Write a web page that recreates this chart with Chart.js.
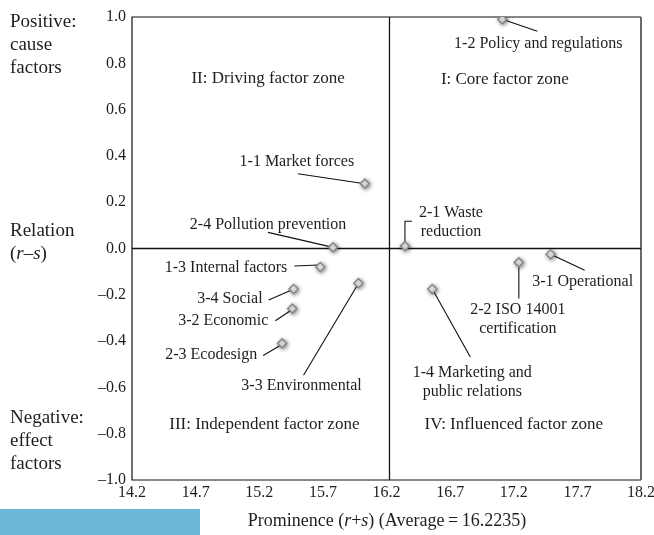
<!DOCTYPE html>
<html>
<head>
<meta charset="utf-8">
<script src="https://cdn.jsdelivr.net/npm/chart.js@4.4.0/dist/chart.umd.min.js"></script>
<style>
  html, body { margin: 0; padding: 0; background: #fff; }
  #wrap { position: relative; width: 654px; height: 535px; }
  #bar { position: absolute; left: 0; top: 509px; width: 200px; height: 26px; background: #6cb8da; }
</style>
</head>
<body>
<div id="wrap">
  <canvas id="chart" width="654" height="535"></canvas>
  <div id="bar"></div>
</div>
<script>
// factors (categories) and their DEMATEL values
const factorNames = [
    '1-1 Market forces',
    '1-2 Policy and regulations',
    '1-3 Internal factors',
    '1-4 Marketing and\npublic relations',
    '2-1 Waste\nreduction',
    '2-2 ISO 14001\ncertification',
    '2-3 Ecodesign',
    '2-4 Pollution prevention',
    '3-1 Operational',
    '3-2 Economic',
    '3-3 Environmental',
    '3-4 Social'
];
const prominence = [16.03, 17.11, 15.68, 16.56, 16.345, 17.24, 15.38, 15.78, 17.49, 15.46, 15.98, 15.47];
const relation   = [0.28, 0.99, -0.08, -0.175, 0.01, -0.06, -0.41, 0.005, -0.025, -0.26, -0.15, -0.175];

const averageProminence = 16.2235;
const xTickValues = [14.2, 14.7, 15.2, 15.7, 16.2, 16.7, 17.2, 17.7, 18.2];
const yTickValues = [-1.0, -0.8, -0.6, -0.4, -0.2, 0.0, 0.2, 0.4, 0.6, 0.8, 1.0];
const quadrantNames = ['I: Core factor zone', 'II: Driving factor zone', 'III: Independent factor zone', 'IV: Influenced factor zone'];

// where the labels sit, relative to each point (px)
const labelLayout = [
    { tx: -68, ty: -22, align: 'center', lead: [[0, 0], [-67, -10]] },
    { tx: 36, ty: 24, align: 'center', lead: [[0, 0], [35, 12]] },
    { tx: -33, ty: 1, align: 'right', lead: [[-2, -2], [-26, -1]] },
    { tx: 40, ty: 84, align: 'center', lead: [[0, 0], [38, 68]] },
    { tx: 46, ty: -33, align: 'center', lead: [[0, 0], [0, -25], [7, -25]] },
    { tx: -1, ty: 47, align: 'center', lead: [[0, 0], [0, 36]] },
    { tx: -25, ty: 11, align: 'right', lead: [[-2, 2], [-19, 12]] },
    { tx: -65, ty: -23, align: 'center', lead: [[0, 0], [-65, -15]] },
    { tx: 32, ty: 28, align: 'center', lead: [[0, 0], [34, 16]] },
    { tx: -24, ty: 12, align: 'right', lead: [[-2, 2], [-17, 12]] },
    { tx: -57, ty: 103, align: 'center', lead: [[0, 0], [-55, 92]] },
    { tx: -31, ty: 10, align: 'right', lead: [[-2, 1], [-25, 11]] }
];
const quadrantPos = [[17.13, 0.73], [15.27, 0.735], [15.24, -0.762], [17.2, -0.762]];

const serif = '"Liberation Serif", "Times New Roman", serif';
const textColor = '#1e1e1e';

const points = prominence.map((x, i) => ({ x: x, y: relation[i] }));

function fmtTick(v) {
    const s = Math.abs(v).toFixed(1);
    return v < -0.0001 ? '\u2013' + s : s;
}

function drawRich(ctx, parts, x, y, size, align) {
    let total = 0;
    parts.forEach(p => {
        ctx.font = (p[1] ? 'italic ' : '') + size + 'px ' + serif;
        total += ctx.measureText(p[0]).width;
    });
    let cx = align === 'center' ? x - total / 2 : x;
    ctx.textAlign = 'left';
    ctx.textBaseline = 'middle';
    parts.forEach(p => {
        ctx.font = (p[1] ? 'italic ' : '') + size + 'px ' + serif;
        ctx.fillText(p[0], cx, y);
        cx += ctx.measureText(p[0]).width;
    });
}

const linesPlugin = {
    id: 'lines',
    beforeDatasetsDraw(chart) {
        const { ctx, chartArea: a, scales } = chart;
        ctx.save();
        // frame
        ctx.strokeStyle = '#111';
        ctx.lineWidth = 1.2;
        ctx.beginPath();
        ctx.moveTo(a.right, a.top);
        ctx.lineTo(a.left, a.top);
        ctx.lineTo(a.left, a.bottom);
        ctx.lineTo(a.right, a.bottom);
        ctx.stroke();
        ctx.strokeStyle = '#6a6a6a';
        ctx.lineWidth = 2;
        ctx.beginPath();
        ctx.moveTo(a.right, a.top);
        ctx.lineTo(a.right, a.bottom);
        ctx.stroke();

        // average / zero cross lines
        ctx.strokeStyle = '#111';
        ctx.lineWidth = 1.3;
        const xa = scales.x.getPixelForValue(averageProminence);
        const y0 = scales.y.getPixelForValue(0);
        ctx.beginPath();
        ctx.moveTo(xa, a.top);
        ctx.lineTo(xa, a.bottom);
        ctx.moveTo(a.left, y0);
        ctx.lineTo(a.right, y0);
        ctx.stroke();

        // leader lines
        ctx.lineWidth = 1.1;
        const meta = chart.getDatasetMeta(0);
        meta.data.forEach((pt, i) => {
            const lay = labelLayout[i];
            ctx.beginPath();
            lay.lead.forEach((d, k) => {
                if (k === 0) ctx.moveTo(pt.x + d[0], pt.y + d[1]);
                else ctx.lineTo(pt.x + d[0], pt.y + d[1]);
            });
            ctx.stroke();
        });
        ctx.restore();
    },
    beforeDatasetDraw(chart) {
        const ctx = chart.ctx;
        ctx.save();
        ctx.shadowColor = 'rgba(0,0,0,0.45)';
        ctx.shadowBlur = 4;
        ctx.shadowOffsetX = 1;
        ctx.shadowOffsetY = 1;
    },
    afterDatasetDraw(chart) {
        chart.ctx.restore();
    },
    afterDraw(chart) {
        const { ctx, scales } = chart;
        ctx.save();
        ctx.fillStyle = textColor;

        // point labels
        ctx.font = '16px ' + serif;
        ctx.textBaseline = 'middle';
        const meta = chart.getDatasetMeta(0);
        meta.data.forEach((pt, i) => {
            const lay = labelLayout[i];
            ctx.textAlign = lay.align;
            factorNames[i].split('\n').forEach((line, k) => {
                ctx.fillText(line, pt.x + lay.tx, pt.y + lay.ty + k * 19);
            });
        });

        // quadrant names
        ctx.font = '17px ' + serif;
        ctx.textAlign = 'center';
        quadrantNames.forEach((q, i) => {
            ctx.fillText(q, scales.x.getPixelForValue(quadrantPos[i][0]), scales.y.getPixelForValue(quadrantPos[i][1]));
        });

        // y-axis side titles
        const side = 19;
        drawRich(ctx, [['Positive:', false]], 10, 22, side, 'left');
        drawRich(ctx, [['cause', false]], 10, 45, side, 'left');
        drawRich(ctx, [['factors', false]], 10, 68, side, 'left');
        drawRich(ctx, [['Relation', false]], 10, 231, side, 'left');
        drawRich(ctx, [['(', false], ['r', true], ['\u2013', false], ['s', true], [')', false]], 10, 254, side, 'left');
        drawRich(ctx, [['Negative:', false]], 10, 418, side, 'left');
        drawRich(ctx, [['effect', false]], 10, 441, side, 'left');
        drawRich(ctx, [['factors', false]], 10, 464, side, 'left');

        // x-axis title
        drawRich(ctx, [['Prominence (', false], ['r', true], ['+', false], ['s', true], [') (Average\u2009=\u200916.2235)', false]], 387, 521, 18, 'center');
        ctx.restore();
    }
};

const ctx = document.getElementById('chart').getContext('2d');
const chart = new Chart(ctx, {
    type: 'scatter',
    data: {
        datasets: [{
            data: points,
            pointStyle: 'rectRot',
            radius: 4.5,
            hoverRadius: 4.5,
            backgroundColor: '#ffffff',
            borderColor: '#8a8a8a',
            borderWidth: 1.6
        }]
    },
    options: {
        responsive: false,
        animation: false,
        events: [],
        layout: { padding: { top: 17, right: 13, left: 0, bottom: 0 } },
        plugins: {
            legend: { display: false },
            tooltip: { enabled: false }
        },
        scales: {
            x: {
                type: 'linear',
                min: 14.2,
                max: 18.2,
                afterBuildTicks: s => { s.ticks = xTickValues.map(v => ({ value: v })); },
                afterFit: s => { s.height = 55; s.paddingLeft = 0; s.paddingRight = 0; },
                grid: { display: false, drawTicks: false },
                border: { display: false },
                ticks: {
                    font: { family: serif, size: 16 },
                    color: textColor,
                    padding: 3,
                    maxRotation: 0,
                    autoSkip: false,
                    callback: v => v.toFixed(1)
                }
            },
            y: {
                type: 'linear',
                min: -1,
                max: 1,
                afterBuildTicks: s => { s.ticks = yTickValues.map(v => ({ value: v })); },
                afterFit: s => { s.width = 132; s.paddingTop = 0; s.paddingBottom = 0; },
                grid: { display: false, drawTicks: false },
                border: { display: false },
                ticks: {
                    font: { family: serif, size: 16 },
                    color: textColor,
                    padding: 6,
                    autoSkip: false,
                    callback: v => fmtTick(v)
                }
            }
        }
    },
    plugins: [linesPlugin]
});
</script>
</body>
</html>
